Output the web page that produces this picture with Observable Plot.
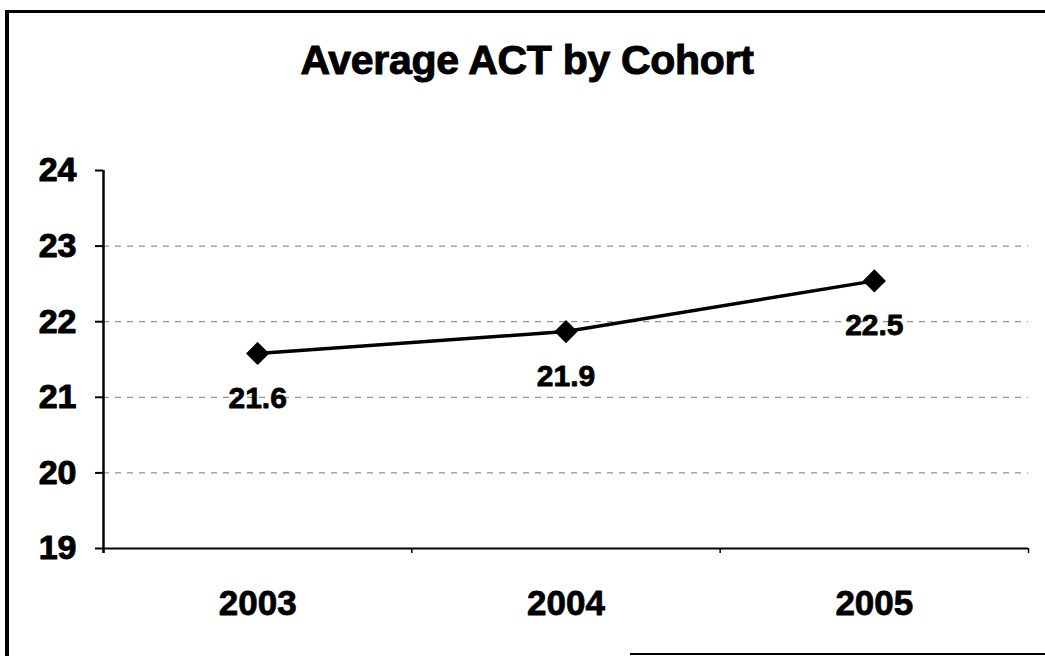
<!DOCTYPE html>
<html>
<head>
<meta charset="utf-8">
<script src="https://cdn.jsdelivr.net/npm/d3@7"></script>
<script src="https://cdn.jsdelivr.net/npm/@observablehq/plot@0.6"></script>
<style>
  html, body { margin: 0; padding: 0; background: #fff; }
  #wrap { position: relative; width: 1045px; height: 656px; overflow: hidden; background: #fff;
          font-family: "Liberation Sans", Arial, sans-serif; }
  #title { position: absolute; top: 40px; left: 527px; transform: translateX(-50%);
           font-size: 41px; line-height: 40px; font-weight: bold; white-space: nowrap; color: #000;
           -webkit-text-stroke: 1px #000; letter-spacing: -0.3px; }
  #chart { position: absolute; top: 100px; left: 0; }
  .bar { position: absolute; background: #000; }
</style>
</head>
<body>
<div id="wrap">
  <div class="bar" style="left:5px;top:10px;width:4px;height:646px;"></div>
  <div class="bar" style="left:5px;top:10px;width:1040px;height:3px;"></div>
  <div class="bar" style="left:630px;top:653px;width:415px;height:2px;"></div>
  <div id="title">Average ACT by Cohort</div>
  <div id="chart"></div>
</div>
<script>
const years = [2003, 2004, 2005];
const actAverages = [21.58, 21.87, 22.54];
const yTicks = [19, 20, 21, 22, 23, 24];
const gridValues = [20, 21, 22, 23];
const categoryBoundaries = [2002.5, 2003.5, 2004.5, 2005.5];

const data = years.map((year, i) => ({year, act: actAverages[i]}));
const font = "'Liberation Sans', Arial, sans-serif";

const chart = Plot.plot({
  width: 1045,
  height: 556,
  marginLeft: 103,
  marginRight: 17,
  marginTop: 70,
  marginBottom: 108,
  style: {fontFamily: font, background: "transparent", color: "#000", overflow: "visible"},
  x: {type: "linear", domain: [2002.5, 2005.5], axis: null, label: null},
  y: {domain: [19, 24], axis: null, label: null},
  marks: [
    Plot.ruleY(gridValues, {stroke: "#777", strokeWidth: 1, strokeDasharray: "6,6"}),
    Plot.axisY({ticks: yTicks, tickSize: 8, stroke: "#000", strokeWidth: 2,
                tickFormat: () => "", label: null}),
    Plot.text(yTicks, {x: 2002.5, y: d => d, text: d => String(d), dx: -27, textAnchor: "end",
                       fontSize: 34, fontWeight: "bold", fill: "#000", stroke: "#000", strokeWidth: 1}),
    Plot.ruleX([2002.5], {y1: 24, y2: 19, insetBottom: -5, stroke: "#000", strokeWidth: 2.5}),
    Plot.ruleY([19], {x1: 2002.5, x2: 2005.5, stroke: "#000", strokeWidth: 2}),
    Plot.axisX({ticks: categoryBoundaries, tickSize: 5, stroke: "#000", strokeWidth: 1.5,
                tickFormat: () => "", label: null}),
    Plot.text(years, {x: d => d, y: 19, text: d => String(d), dy: 55, fontSize: 35,
                      fontWeight: "bold", fill: "#000", stroke: "#000", strokeWidth: 0.8}),
    Plot.line(data, {x: "year", y: "act", stroke: "#000", strokeWidth: 3.5}),
    Plot.dot(data, {x: "year", y: "act", symbol: "diamond2", r: 9.5, fill: "#000", stroke: "#000"}),
    Plot.text(data, {x: "year", y: "act", text: d => d.act.toFixed(1), dy: 45, fontSize: 30,
                     fontWeight: "bold", fill: "#000", stroke: "#000", strokeWidth: 0.8})
  ]
});
document.getElementById("chart").appendChild(chart);
</script>
</body>
</html>
